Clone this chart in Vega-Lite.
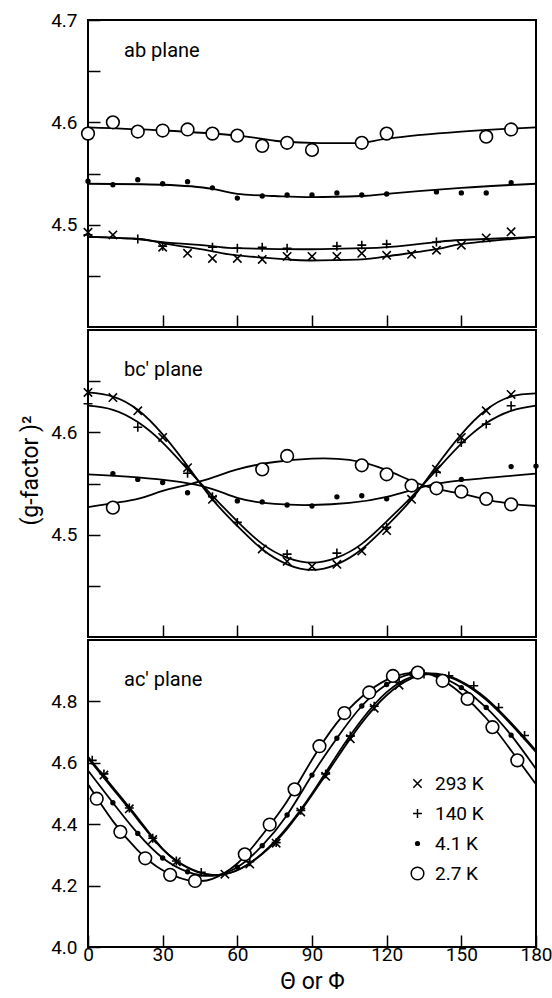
{
  "$schema": "https://vega.github.io/schema/vega-lite/v6.json",
  "background": "white",
  "padding": {"left": 18, "top": 10, "right": 0, "bottom": 0},
  "spacing": 0,
  "config": {
    "view": {"stroke": "black", "strokeWidth": 2},
    "font": "Roboto",
    "axis": {"domain": false, "grid": false, "tickColor": "black", "tickWidth": 1.5, "labelColor": "black", "labelFont": "Roboto", "labelFontSize": 19, "titleFont": "Roboto", "titleColor": "black", "titleFontWeight": "normal"},
    "title": {"font": "Roboto", "color": "black", "fontWeight": "normal"}
  },
  "datasets": {
    "points": [
      {"panel": "ab", "series": "2.7 K", "theta": 0, "g": 4.589},
      {"panel": "ab", "series": "2.7 K", "theta": 10, "g": 4.600},
      {"panel": "ab", "series": "2.7 K", "theta": 20, "g": 4.591},
      {"panel": "ab", "series": "2.7 K", "theta": 30, "g": 4.592},
      {"panel": "ab", "series": "2.7 K", "theta": 40, "g": 4.593},
      {"panel": "ab", "series": "2.7 K", "theta": 50, "g": 4.589},
      {"panel": "ab", "series": "2.7 K", "theta": 60, "g": 4.587},
      {"panel": "ab", "series": "2.7 K", "theta": 70, "g": 4.577},
      {"panel": "ab", "series": "2.7 K", "theta": 80, "g": 4.580},
      {"panel": "ab", "series": "2.7 K", "theta": 90, "g": 4.573},
      {"panel": "ab", "series": "2.7 K", "theta": 110, "g": 4.580},
      {"panel": "ab", "series": "2.7 K", "theta": 120, "g": 4.589},
      {"panel": "ab", "series": "2.7 K", "theta": 160, "g": 4.586},
      {"panel": "ab", "series": "2.7 K", "theta": 170, "g": 4.593},
      {"panel": "ab", "series": "4.1 K", "theta": 0, "g": 4.5425},
      {"panel": "ab", "series": "4.1 K", "theta": 10, "g": 4.539},
      {"panel": "ab", "series": "4.1 K", "theta": 20, "g": 4.544},
      {"panel": "ab", "series": "4.1 K", "theta": 30, "g": 4.540},
      {"panel": "ab", "series": "4.1 K", "theta": 40, "g": 4.542},
      {"panel": "ab", "series": "4.1 K", "theta": 50, "g": 4.536},
      {"panel": "ab", "series": "4.1 K", "theta": 60, "g": 4.526},
      {"panel": "ab", "series": "4.1 K", "theta": 70, "g": 4.528},
      {"panel": "ab", "series": "4.1 K", "theta": 80, "g": 4.529},
      {"panel": "ab", "series": "4.1 K", "theta": 90, "g": 4.529},
      {"panel": "ab", "series": "4.1 K", "theta": 100, "g": 4.531},
      {"panel": "ab", "series": "4.1 K", "theta": 110, "g": 4.529},
      {"panel": "ab", "series": "4.1 K", "theta": 120, "g": 4.530},
      {"panel": "ab", "series": "4.1 K", "theta": 140, "g": 4.532},
      {"panel": "ab", "series": "4.1 K", "theta": 150, "g": 4.531},
      {"panel": "ab", "series": "4.1 K", "theta": 160, "g": 4.531},
      {"panel": "ab", "series": "4.1 K", "theta": 170, "g": 4.541},
      {"panel": "ab", "series": "293 K", "theta": 0, "g": 4.4925},
      {"panel": "ab", "series": "293 K", "theta": 10, "g": 4.490},
      {"panel": "ab", "series": "293 K", "theta": 30, "g": 4.478},
      {"panel": "ab", "series": "293 K", "theta": 40, "g": 4.472},
      {"panel": "ab", "series": "293 K", "theta": 50, "g": 4.467},
      {"panel": "ab", "series": "293 K", "theta": 60, "g": 4.467},
      {"panel": "ab", "series": "293 K", "theta": 70, "g": 4.466},
      {"panel": "ab", "series": "293 K", "theta": 80, "g": 4.469},
      {"panel": "ab", "series": "293 K", "theta": 90, "g": 4.469},
      {"panel": "ab", "series": "293 K", "theta": 100, "g": 4.469},
      {"panel": "ab", "series": "293 K", "theta": 110, "g": 4.472},
      {"panel": "ab", "series": "293 K", "theta": 120, "g": 4.470},
      {"panel": "ab", "series": "293 K", "theta": 130, "g": 4.471},
      {"panel": "ab", "series": "293 K", "theta": 140, "g": 4.475},
      {"panel": "ab", "series": "293 K", "theta": 150, "g": 4.480},
      {"panel": "ab", "series": "293 K", "theta": 160, "g": 4.487},
      {"panel": "ab", "series": "293 K", "theta": 170, "g": 4.493},
      {"panel": "ab", "series": "140 K", "theta": 0, "g": 4.490},
      {"panel": "ab", "series": "140 K", "theta": 20, "g": 4.486},
      {"panel": "ab", "series": "140 K", "theta": 30, "g": 4.479},
      {"panel": "ab", "series": "140 K", "theta": 50, "g": 4.478},
      {"panel": "ab", "series": "140 K", "theta": 60, "g": 4.477},
      {"panel": "ab", "series": "140 K", "theta": 70, "g": 4.478},
      {"panel": "ab", "series": "140 K", "theta": 80, "g": 4.477},
      {"panel": "ab", "series": "140 K", "theta": 100, "g": 4.479},
      {"panel": "ab", "series": "140 K", "theta": 110, "g": 4.480},
      {"panel": "ab", "series": "140 K", "theta": 120, "g": 4.481},
      {"panel": "ab", "series": "140 K", "theta": 140, "g": 4.483},

      {"panel": "bc", "series": "293 K", "theta": 0, "g": 4.639},
      {"panel": "bc", "series": "293 K", "theta": 10, "g": 4.634},
      {"panel": "bc", "series": "293 K", "theta": 20, "g": 4.621},
      {"panel": "bc", "series": "293 K", "theta": 30, "g": 4.595},
      {"panel": "bc", "series": "293 K", "theta": 40, "g": 4.5655},
      {"panel": "bc", "series": "293 K", "theta": 50, "g": 4.5345},
      {"panel": "bc", "series": "293 K", "theta": 70, "g": 4.486},
      {"panel": "bc", "series": "293 K", "theta": 80, "g": 4.474},
      {"panel": "bc", "series": "293 K", "theta": 90, "g": 4.469},
      {"panel": "bc", "series": "293 K", "theta": 100, "g": 4.471},
      {"panel": "bc", "series": "293 K", "theta": 110, "g": 4.484},
      {"panel": "bc", "series": "293 K", "theta": 120, "g": 4.504},
      {"panel": "bc", "series": "293 K", "theta": 130, "g": 4.5345},
      {"panel": "bc", "series": "293 K", "theta": 140, "g": 4.564},
      {"panel": "bc", "series": "293 K", "theta": 150, "g": 4.595},
      {"panel": "bc", "series": "293 K", "theta": 160, "g": 4.621},
      {"panel": "bc", "series": "293 K", "theta": 170, "g": 4.637},
      {"panel": "bc", "series": "140 K", "theta": 0, "g": 4.628},
      {"panel": "bc", "series": "140 K", "theta": 20, "g": 4.605},
      {"panel": "bc", "series": "140 K", "theta": 40, "g": 4.560},
      {"panel": "bc", "series": "140 K", "theta": 50, "g": 4.537},
      {"panel": "bc", "series": "140 K", "theta": 60, "g": 4.512},
      {"panel": "bc", "series": "140 K", "theta": 80, "g": 4.481},
      {"panel": "bc", "series": "140 K", "theta": 100, "g": 4.482},
      {"panel": "bc", "series": "140 K", "theta": 120, "g": 4.507},
      {"panel": "bc", "series": "140 K", "theta": 140, "g": 4.561},
      {"panel": "bc", "series": "140 K", "theta": 150, "g": 4.590},
      {"panel": "bc", "series": "140 K", "theta": 160, "g": 4.608},
      {"panel": "bc", "series": "140 K", "theta": 170, "g": 4.626},
      {"panel": "bc", "series": "4.1 K", "theta": 10, "g": 4.5596},
      {"panel": "bc", "series": "4.1 K", "theta": 20, "g": 4.554},
      {"panel": "bc", "series": "4.1 K", "theta": 30, "g": 4.551},
      {"panel": "bc", "series": "4.1 K", "theta": 40, "g": 4.541},
      {"panel": "bc", "series": "4.1 K", "theta": 60, "g": 4.533},
      {"panel": "bc", "series": "4.1 K", "theta": 70, "g": 4.532},
      {"panel": "bc", "series": "4.1 K", "theta": 80, "g": 4.529},
      {"panel": "bc", "series": "4.1 K", "theta": 90, "g": 4.528},
      {"panel": "bc", "series": "4.1 K", "theta": 100, "g": 4.537},
      {"panel": "bc", "series": "4.1 K", "theta": 110, "g": 4.538},
      {"panel": "bc", "series": "4.1 K", "theta": 120, "g": 4.535},
      {"panel": "bc", "series": "4.1 K", "theta": 140, "g": 4.548},
      {"panel": "bc", "series": "4.1 K", "theta": 150, "g": 4.554},
      {"panel": "bc", "series": "4.1 K", "theta": 170, "g": 4.5665},
      {"panel": "bc", "series": "4.1 K", "theta": 180, "g": 4.567},
      {"panel": "bc", "series": "2.7 K", "theta": 10, "g": 4.5264},
      {"panel": "bc", "series": "2.7 K", "theta": 70, "g": 4.5638},
      {"panel": "bc", "series": "2.7 K", "theta": 80, "g": 4.5769},
      {"panel": "bc", "series": "2.7 K", "theta": 110, "g": 4.5678},
      {"panel": "bc", "series": "2.7 K", "theta": 120, "g": 4.559},
      {"panel": "bc", "series": "2.7 K", "theta": 130, "g": 4.548},
      {"panel": "bc", "series": "2.7 K", "theta": 140, "g": 4.5453},
      {"panel": "bc", "series": "2.7 K", "theta": 150, "g": 4.542},
      {"panel": "bc", "series": "2.7 K", "theta": 160, "g": 4.535},
      {"panel": "bc", "series": "2.7 K", "theta": 170, "g": 4.5296},

      {"panel": "ac", "series": "4.1 K", "theta": 10, "g": 4.47},
      {"panel": "ac", "series": "4.1 K", "theta": 20, "g": 4.37},
      {"panel": "ac", "series": "4.1 K", "theta": 30, "g": 4.29},
      {"panel": "ac", "series": "4.1 K", "theta": 40, "g": 4.245},
      {"panel": "ac", "series": "4.1 K", "theta": 60, "g": 4.26},
      {"panel": "ac", "series": "4.1 K", "theta": 70, "g": 4.33},
      {"panel": "ac", "series": "4.1 K", "theta": 80, "g": 4.43},
      {"panel": "ac", "series": "4.1 K", "theta": 90, "g": 4.56},
      {"panel": "ac", "series": "4.1 K", "theta": 100, "g": 4.68},
      {"panel": "ac", "series": "4.1 K", "theta": 110, "g": 4.785},
      {"panel": "ac", "series": "4.1 K", "theta": 120, "g": 4.855},
      {"panel": "ac", "series": "4.1 K", "theta": 130, "g": 4.89},
      {"panel": "ac", "series": "4.1 K", "theta": 150, "g": 4.845},
      {"panel": "ac", "series": "4.1 K", "theta": 160, "g": 4.78},
      {"panel": "ac", "series": "4.1 K", "theta": 170, "g": 4.69},
      {"panel": "ac", "series": "293 K", "theta": 6.4, "g": 4.56},
      {"panel": "ac", "series": "293 K", "theta": 16.6, "g": 4.45},
      {"panel": "ac", "series": "293 K", "theta": 26, "g": 4.35},
      {"panel": "ac", "series": "293 K", "theta": 35.5, "g": 4.278},
      {"panel": "ac", "series": "293 K", "theta": 55, "g": 4.237},
      {"panel": "ac", "series": "293 K", "theta": 65, "g": 4.27},
      {"panel": "ac", "series": "293 K", "theta": 75.6, "g": 4.338},
      {"panel": "ac", "series": "293 K", "theta": 85.5, "g": 4.44},
      {"panel": "ac", "series": "293 K", "theta": 95.5, "g": 4.556},
      {"panel": "ac", "series": "293 K", "theta": 105.4, "g": 4.678},
      {"panel": "ac", "series": "293 K", "theta": 115, "g": 4.778},
      {"panel": "ac", "series": "293 K", "theta": 125, "g": 4.853},
      {"panel": "ac", "series": "140 K", "theta": 1.7, "g": 4.608},
      {"panel": "ac", "series": "140 K", "theta": 6.4, "g": 4.564},
      {"panel": "ac", "series": "140 K", "theta": 16.6, "g": 4.453},
      {"panel": "ac", "series": "140 K", "theta": 26, "g": 4.354},
      {"panel": "ac", "series": "140 K", "theta": 35.5, "g": 4.28},
      {"panel": "ac", "series": "140 K", "theta": 45.5, "g": 4.243},
      {"panel": "ac", "series": "140 K", "theta": 65, "g": 4.278},
      {"panel": "ac", "series": "140 K", "theta": 75.6, "g": 4.34},
      {"panel": "ac", "series": "140 K", "theta": 85.5, "g": 4.445},
      {"panel": "ac", "series": "140 K", "theta": 95.5, "g": 4.564},
      {"panel": "ac", "series": "140 K", "theta": 105.4, "g": 4.687},
      {"panel": "ac", "series": "140 K", "theta": 115, "g": 4.784},
      {"panel": "ac", "series": "140 K", "theta": 125, "g": 4.862},
      {"panel": "ac", "series": "140 K", "theta": 135, "g": 4.889},
      {"panel": "ac", "series": "140 K", "theta": 145, "g": 4.883},
      {"panel": "ac", "series": "140 K", "theta": 155, "g": 4.851},
      {"panel": "ac", "series": "140 K", "theta": 165, "g": 4.78},
      {"panel": "ac", "series": "140 K", "theta": 175.4, "g": 4.689},
      {"panel": "ac", "series": "2.7 K", "theta": 3.5, "g": 4.483},
      {"panel": "ac", "series": "2.7 K", "theta": 13, "g": 4.375},
      {"panel": "ac", "series": "2.7 K", "theta": 23, "g": 4.289},
      {"panel": "ac", "series": "2.7 K", "theta": 33, "g": 4.235},
      {"panel": "ac", "series": "2.7 K", "theta": 43, "g": 4.215},
      {"panel": "ac", "series": "2.7 K", "theta": 63, "g": 4.302},
      {"panel": "ac", "series": "2.7 K", "theta": 73, "g": 4.399},
      {"panel": "ac", "series": "2.7 K", "theta": 83, "g": 4.5135},
      {"panel": "ac", "series": "2.7 K", "theta": 93, "g": 4.654},
      {"panel": "ac", "series": "2.7 K", "theta": 103, "g": 4.762},
      {"panel": "ac", "series": "2.7 K", "theta": 113, "g": 4.829},
      {"panel": "ac", "series": "2.7 K", "theta": 122.5, "g": 4.883},
      {"panel": "ac", "series": "2.7 K", "theta": 132.5, "g": 4.894},
      {"panel": "ac", "series": "2.7 K", "theta": 142.5, "g": 4.867},
      {"panel": "ac", "series": "2.7 K", "theta": 152.5, "g": 4.808},
      {"panel": "ac", "series": "2.7 K", "theta": 162.5, "g": 4.716},
      {"panel": "ac", "series": "2.7 K", "theta": 172.5, "g": 4.608}
    ],
    "curves": [
      {"panel": "ab", "series": "2.7 K", "theta": 0, "g": 4.595},
      {"panel": "ab", "series": "2.7 K", "theta": 30, "g": 4.592},
      {"panel": "ab", "series": "2.7 K", "theta": 60, "g": 4.587},
      {"panel": "ab", "series": "2.7 K", "theta": 75, "g": 4.582},
      {"panel": "ab", "series": "2.7 K", "theta": 90, "g": 4.580},
      {"panel": "ab", "series": "2.7 K", "theta": 110, "g": 4.580},
      {"panel": "ab", "series": "2.7 K", "theta": 120, "g": 4.584},
      {"panel": "ab", "series": "2.7 K", "theta": 150, "g": 4.591},
      {"panel": "ab", "series": "2.7 K", "theta": 180, "g": 4.595},
      {"panel": "ab", "series": "4.1 K", "theta": 0, "g": 4.540},
      {"panel": "ab", "series": "4.1 K", "theta": 30, "g": 4.539},
      {"panel": "ab", "series": "4.1 K", "theta": 50, "g": 4.535},
      {"panel": "ab", "series": "4.1 K", "theta": 60, "g": 4.530},
      {"panel": "ab", "series": "4.1 K", "theta": 75, "g": 4.528},
      {"panel": "ab", "series": "4.1 K", "theta": 90, "g": 4.527},
      {"panel": "ab", "series": "4.1 K", "theta": 110, "g": 4.528},
      {"panel": "ab", "series": "4.1 K", "theta": 120, "g": 4.530},
      {"panel": "ab", "series": "4.1 K", "theta": 150, "g": 4.536},
      {"panel": "ab", "series": "4.1 K", "theta": 180, "g": 4.540},
      {"panel": "ab", "series": "293 K", "theta": 0, "g": 4.488},
      {"panel": "ab", "series": "293 K", "theta": 20, "g": 4.486},
      {"panel": "ab", "series": "293 K", "theta": 30, "g": 4.482},
      {"panel": "ab", "series": "293 K", "theta": 50, "g": 4.474},
      {"panel": "ab", "series": "293 K", "theta": 60, "g": 4.470},
      {"panel": "ab", "series": "293 K", "theta": 80, "g": 4.466},
      {"panel": "ab", "series": "293 K", "theta": 90, "g": 4.465},
      {"panel": "ab", "series": "293 K", "theta": 110, "g": 4.466},
      {"panel": "ab", "series": "293 K", "theta": 120, "g": 4.469},
      {"panel": "ab", "series": "293 K", "theta": 140, "g": 4.476},
      {"panel": "ab", "series": "293 K", "theta": 150, "g": 4.481},
      {"panel": "ab", "series": "293 K", "theta": 170, "g": 4.486},
      {"panel": "ab", "series": "293 K", "theta": 180, "g": 4.488},
      {"panel": "ab", "series": "140 K", "theta": 0, "g": 4.488},
      {"panel": "ab", "series": "140 K", "theta": 20, "g": 4.486},
      {"panel": "ab", "series": "140 K", "theta": 30, "g": 4.483},
      {"panel": "ab", "series": "140 K", "theta": 50, "g": 4.479},
      {"panel": "ab", "series": "140 K", "theta": 60, "g": 4.477},
      {"panel": "ab", "series": "140 K", "theta": 90, "g": 4.476},
      {"panel": "ab", "series": "140 K", "theta": 110, "g": 4.477},
      {"panel": "ab", "series": "140 K", "theta": 120, "g": 4.478},
      {"panel": "ab", "series": "140 K", "theta": 140, "g": 4.483},
      {"panel": "ab", "series": "140 K", "theta": 150, "g": 4.485},
      {"panel": "ab", "series": "140 K", "theta": 180, "g": 4.488},

      {"panel": "bc", "series": "293 K", "theta": 0, "g": 4.639},
      {"panel": "bc", "series": "293 K", "theta": 10, "g": 4.635},
      {"panel": "bc", "series": "293 K", "theta": 20, "g": 4.622},
      {"panel": "bc", "series": "293 K", "theta": 30, "g": 4.598},
      {"panel": "bc", "series": "293 K", "theta": 40, "g": 4.567},
      {"panel": "bc", "series": "293 K", "theta": 50, "g": 4.5345},
      {"panel": "bc", "series": "293 K", "theta": 60, "g": 4.5085},
      {"panel": "bc", "series": "293 K", "theta": 70, "g": 4.4857},
      {"panel": "bc", "series": "293 K", "theta": 80, "g": 4.471},
      {"panel": "bc", "series": "293 K", "theta": 90, "g": 4.4655},
      {"panel": "bc", "series": "293 K", "theta": 100, "g": 4.471},
      {"panel": "bc", "series": "293 K", "theta": 110, "g": 4.4857},
      {"panel": "bc", "series": "293 K", "theta": 120, "g": 4.5085},
      {"panel": "bc", "series": "293 K", "theta": 130, "g": 4.5345},
      {"panel": "bc", "series": "293 K", "theta": 140, "g": 4.567},
      {"panel": "bc", "series": "293 K", "theta": 150, "g": 4.598},
      {"panel": "bc", "series": "293 K", "theta": 160, "g": 4.622},
      {"panel": "bc", "series": "293 K", "theta": 170, "g": 4.635},
      {"panel": "bc", "series": "293 K", "theta": 180, "g": 4.638},
      {"panel": "bc", "series": "140 K", "theta": 0, "g": 4.626},
      {"panel": "bc", "series": "140 K", "theta": 10, "g": 4.622},
      {"panel": "bc", "series": "140 K", "theta": 20, "g": 4.610},
      {"panel": "bc", "series": "140 K", "theta": 30, "g": 4.590},
      {"panel": "bc", "series": "140 K", "theta": 40, "g": 4.564},
      {"panel": "bc", "series": "140 K", "theta": 50, "g": 4.538},
      {"panel": "bc", "series": "140 K", "theta": 60, "g": 4.513},
      {"panel": "bc", "series": "140 K", "theta": 70, "g": 4.491},
      {"panel": "bc", "series": "140 K", "theta": 80, "g": 4.4775},
      {"panel": "bc", "series": "140 K", "theta": 90, "g": 4.4726},
      {"panel": "bc", "series": "140 K", "theta": 100, "g": 4.4775},
      {"panel": "bc", "series": "140 K", "theta": 110, "g": 4.491},
      {"panel": "bc", "series": "140 K", "theta": 120, "g": 4.513},
      {"panel": "bc", "series": "140 K", "theta": 130, "g": 4.537},
      {"panel": "bc", "series": "140 K", "theta": 140, "g": 4.563},
      {"panel": "bc", "series": "140 K", "theta": 150, "g": 4.589},
      {"panel": "bc", "series": "140 K", "theta": 160, "g": 4.609},
      {"panel": "bc", "series": "140 K", "theta": 170, "g": 4.621},
      {"panel": "bc", "series": "140 K", "theta": 180, "g": 4.626},
      {"panel": "bc", "series": "4.1 K", "theta": 0, "g": 4.559},
      {"panel": "bc", "series": "4.1 K", "theta": 20, "g": 4.556},
      {"panel": "bc", "series": "4.1 K", "theta": 45, "g": 4.548},
      {"panel": "bc", "series": "4.1 K", "theta": 60, "g": 4.536},
      {"panel": "bc", "series": "4.1 K", "theta": 75, "g": 4.530},
      {"panel": "bc", "series": "4.1 K", "theta": 90, "g": 4.529},
      {"panel": "bc", "series": "4.1 K", "theta": 105, "g": 4.531},
      {"panel": "bc", "series": "4.1 K", "theta": 120, "g": 4.537},
      {"panel": "bc", "series": "4.1 K", "theta": 135, "g": 4.547},
      {"panel": "bc", "series": "4.1 K", "theta": 150, "g": 4.553},
      {"panel": "bc", "series": "4.1 K", "theta": 180, "g": 4.5596},
      {"panel": "bc", "series": "2.7 K", "theta": 0, "g": 4.527},
      {"panel": "bc", "series": "2.7 K", "theta": 20, "g": 4.535},
      {"panel": "bc", "series": "2.7 K", "theta": 30, "g": 4.5427},
      {"panel": "bc", "series": "2.7 K", "theta": 45, "g": 4.552},
      {"panel": "bc", "series": "2.7 K", "theta": 60, "g": 4.5638},
      {"panel": "bc", "series": "2.7 K", "theta": 75, "g": 4.571},
      {"panel": "bc", "series": "2.7 K", "theta": 90, "g": 4.5743},
      {"panel": "bc", "series": "2.7 K", "theta": 105, "g": 4.573},
      {"panel": "bc", "series": "2.7 K", "theta": 120, "g": 4.563},
      {"panel": "bc", "series": "2.7 K", "theta": 135, "g": 4.548},
      {"panel": "bc", "series": "2.7 K", "theta": 150, "g": 4.540},
      {"panel": "bc", "series": "2.7 K", "theta": 165, "g": 4.532},
      {"panel": "bc", "series": "2.7 K", "theta": 180, "g": 4.528},

      {"panel": "ac", "series": "140 K", "theta": 0, "g": 4.62},
      {"panel": "ac", "series": "140 K", "theta": 10, "g": 4.52},
      {"panel": "ac", "series": "140 K", "theta": 20, "g": 4.42},
      {"panel": "ac", "series": "140 K", "theta": 30, "g": 4.32},
      {"panel": "ac", "series": "140 K", "theta": 40, "g": 4.26},
      {"panel": "ac", "series": "140 K", "theta": 50, "g": 4.235},
      {"panel": "ac", "series": "140 K", "theta": 60, "g": 4.25},
      {"panel": "ac", "series": "140 K", "theta": 70, "g": 4.305},
      {"panel": "ac", "series": "140 K", "theta": 80, "g": 4.39},
      {"panel": "ac", "series": "140 K", "theta": 90, "g": 4.50},
      {"panel": "ac", "series": "140 K", "theta": 100, "g": 4.625},
      {"panel": "ac", "series": "140 K", "theta": 110, "g": 4.74},
      {"panel": "ac", "series": "140 K", "theta": 120, "g": 4.83},
      {"panel": "ac", "series": "140 K", "theta": 130, "g": 4.88},
      {"panel": "ac", "series": "140 K", "theta": 140, "g": 4.89},
      {"panel": "ac", "series": "140 K", "theta": 150, "g": 4.865},
      {"panel": "ac", "series": "140 K", "theta": 160, "g": 4.81},
      {"panel": "ac", "series": "140 K", "theta": 170, "g": 4.73},
      {"panel": "ac", "series": "140 K", "theta": 180, "g": 4.64},
      {"panel": "ac", "series": "293 K", "theta": 0, "g": 4.615},
      {"panel": "ac", "series": "293 K", "theta": 10, "g": 4.515},
      {"panel": "ac", "series": "293 K", "theta": 20, "g": 4.415},
      {"panel": "ac", "series": "293 K", "theta": 30, "g": 4.318},
      {"panel": "ac", "series": "293 K", "theta": 40, "g": 4.258},
      {"panel": "ac", "series": "293 K", "theta": 50, "g": 4.234},
      {"panel": "ac", "series": "293 K", "theta": 60, "g": 4.25},
      {"panel": "ac", "series": "293 K", "theta": 70, "g": 4.303},
      {"panel": "ac", "series": "293 K", "theta": 80, "g": 4.385},
      {"panel": "ac", "series": "293 K", "theta": 90, "g": 4.495},
      {"panel": "ac", "series": "293 K", "theta": 100, "g": 4.615},
      {"panel": "ac", "series": "293 K", "theta": 110, "g": 4.73},
      {"panel": "ac", "series": "293 K", "theta": 120, "g": 4.82},
      {"panel": "ac", "series": "293 K", "theta": 130, "g": 4.875},
      {"panel": "ac", "series": "293 K", "theta": 140, "g": 4.888},
      {"panel": "ac", "series": "293 K", "theta": 150, "g": 4.862},
      {"panel": "ac", "series": "293 K", "theta": 160, "g": 4.805},
      {"panel": "ac", "series": "293 K", "theta": 170, "g": 4.725},
      {"panel": "ac", "series": "293 K", "theta": 180, "g": 4.635},
      {"panel": "ac", "series": "4.1 K", "theta": 0, "g": 4.575},
      {"panel": "ac", "series": "4.1 K", "theta": 10, "g": 4.47},
      {"panel": "ac", "series": "4.1 K", "theta": 20, "g": 4.37},
      {"panel": "ac", "series": "4.1 K", "theta": 30, "g": 4.29},
      {"panel": "ac", "series": "4.1 K", "theta": 40, "g": 4.245},
      {"panel": "ac", "series": "4.1 K", "theta": 50, "g": 4.232},
      {"panel": "ac", "series": "4.1 K", "theta": 60, "g": 4.26},
      {"panel": "ac", "series": "4.1 K", "theta": 70, "g": 4.33},
      {"panel": "ac", "series": "4.1 K", "theta": 80, "g": 4.43},
      {"panel": "ac", "series": "4.1 K", "theta": 90, "g": 4.56},
      {"panel": "ac", "series": "4.1 K", "theta": 100, "g": 4.68},
      {"panel": "ac", "series": "4.1 K", "theta": 110, "g": 4.785},
      {"panel": "ac", "series": "4.1 K", "theta": 120, "g": 4.855},
      {"panel": "ac", "series": "4.1 K", "theta": 130, "g": 4.89},
      {"panel": "ac", "series": "4.1 K", "theta": 140, "g": 4.885},
      {"panel": "ac", "series": "4.1 K", "theta": 150, "g": 4.845},
      {"panel": "ac", "series": "4.1 K", "theta": 160, "g": 4.78},
      {"panel": "ac", "series": "4.1 K", "theta": 170, "g": 4.69},
      {"panel": "ac", "series": "4.1 K", "theta": 180, "g": 4.58},
      {"panel": "ac", "series": "2.7 K", "theta": 0, "g": 4.53},
      {"panel": "ac", "series": "2.7 K", "theta": 10, "g": 4.41},
      {"panel": "ac", "series": "2.7 K", "theta": 20, "g": 4.315},
      {"panel": "ac", "series": "2.7 K", "theta": 30, "g": 4.25},
      {"panel": "ac", "series": "2.7 K", "theta": 40, "g": 4.218},
      {"panel": "ac", "series": "2.7 K", "theta": 45, "g": 4.215},
      {"panel": "ac", "series": "2.7 K", "theta": 50, "g": 4.222},
      {"panel": "ac", "series": "2.7 K", "theta": 60, "g": 4.272},
      {"panel": "ac", "series": "2.7 K", "theta": 70, "g": 4.365},
      {"panel": "ac", "series": "2.7 K", "theta": 80, "g": 4.475},
      {"panel": "ac", "series": "2.7 K", "theta": 90, "g": 4.61},
      {"panel": "ac", "series": "2.7 K", "theta": 100, "g": 4.73},
      {"panel": "ac", "series": "2.7 K", "theta": 110, "g": 4.815},
      {"panel": "ac", "series": "2.7 K", "theta": 120, "g": 4.87},
      {"panel": "ac", "series": "2.7 K", "theta": 130, "g": 4.893},
      {"panel": "ac", "series": "2.7 K", "theta": 140, "g": 4.88},
      {"panel": "ac", "series": "2.7 K", "theta": 150, "g": 4.825},
      {"panel": "ac", "series": "2.7 K", "theta": 160, "g": 4.745},
      {"panel": "ac", "series": "2.7 K", "theta": 170, "g": 4.64},
      {"panel": "ac", "series": "2.7 K", "theta": 180, "g": 4.53}
    ]
  },
  "vconcat": [
    {
      "width": 448, "height": 307,
      "title": {"text": "ab plane", "anchor": "start", "frame": "group", "offset": -50, "dx": 36, "fontSize": 20},
      "encoding": {
        "x": {"field": "theta", "type": "quantitative", "scale": {"domain": [0, 180], "nice": false}, "axis": {"values": [30, 60, 90, 120, 150], "labels": false, "title": null, "tickSize": -12}},
        "y": {"field": "g", "type": "quantitative", "scale": {"domain": [4.4, 4.7], "nice": false, "zero": false}, "axis": {"values": [4.45, 4.5, 4.55, 4.6, 4.65, 4.7], "labelExpr": "abs(datum.value*10 - round(datum.value*10)) < 0.01 ? format(datum.value, '.1f') : ''", "tickSize": -12, "labelPadding": 23, "title": null}}
      },
      "layer": [
        {"data": {"name": "curves"}, "transform": [{"filter": "datum.panel == 'ab'"}], "mark": {"type": "line", "interpolate": "natural", "color": "black", "strokeWidth": 1.8}, "encoding": {"detail": {"field": "series"}}},
        {"data": {"name": "points"}, "transform": [{"filter": "datum.panel == 'ab'"}], "mark": {"type": "point", "filled": true, "stroke": "black", "strokeWidth": 1.6, "opacity": 1},
         "encoding": {
           "shape": {"field": "series", "type": "nominal", "scale": {"domain": ["293 K", "140 K", "4.1 K", "2.7 K"], "range": ["M-1,-1L1,1M-1,1L1,-1", "M0,-1L0,1M-1,0L1,0", "circle", "circle"]}, "legend": null},
           "size": {"field": "series", "type": "nominal", "scale": {"type": "ordinal", "domain": ["293 K", "140 K", "4.1 K", "2.7 K"], "range": [70, 80, 14, 160]}, "legend": null},
           "fill": {"field": "series", "type": "nominal", "scale": {"domain": ["293 K", "140 K", "4.1 K", "2.7 K"], "range": ["white", "white", "black", "white"]}, "legend": null}
         }}
      ]
    },
    {
      "width": 448, "height": 307,
      "title": {"text": "bc' plane", "anchor": "start", "frame": "group", "offset": -50, "dx": 36, "fontSize": 20},
      "encoding": {
        "x": {"field": "theta", "type": "quantitative", "scale": {"domain": [0, 180], "nice": false}, "axis": {"values": [30, 60, 90, 120, 150], "labels": false, "title": null, "tickSize": -12}},
        "y": {"field": "g", "type": "quantitative", "scale": {"domain": [4.4, 4.7], "nice": false, "zero": false}, "axis": {"values": [4.45, 4.5, 4.55, 4.6, 4.65], "labelExpr": "abs(datum.value*10 - round(datum.value*10)) < 0.01 ? format(datum.value, '.1f') : ''", "tickSize": -12, "labelPadding": 23, "title": "(g-factor )²", "titleFontSize": 23, "titlePadding": 8, "titleY": 140}}
      },
      "layer": [
        {"data": {"name": "curves"}, "transform": [{"filter": "datum.panel == 'bc'"}], "mark": {"type": "line", "interpolate": "natural", "color": "black", "strokeWidth": 1.8}, "encoding": {"detail": {"field": "series"}}},
        {"data": {"name": "points"}, "transform": [{"filter": "datum.panel == 'bc'"}], "mark": {"type": "point", "filled": true, "stroke": "black", "strokeWidth": 1.6, "opacity": 1},
         "encoding": {
           "shape": {"field": "series", "type": "nominal", "scale": {"domain": ["293 K", "140 K", "4.1 K", "2.7 K"], "range": ["M-1,-1L1,1M-1,1L1,-1", "M0,-1L0,1M-1,0L1,0", "circle", "circle"]}, "legend": null},
           "size": {"field": "series", "type": "nominal", "scale": {"type": "ordinal", "domain": ["293 K", "140 K", "4.1 K", "2.7 K"], "range": [70, 80, 14, 160]}, "legend": null},
           "fill": {"field": "series", "type": "nominal", "scale": {"domain": ["293 K", "140 K", "4.1 K", "2.7 K"], "range": ["white", "white", "black", "white"]}, "legend": null}
         }}
      ]
    },
    {
      "width": 448, "height": 307,
      "title": {"text": "ac' plane", "anchor": "start", "frame": "group", "offset": -50, "dx": 36, "fontSize": 20},
      "encoding": {
        "x": {"field": "theta", "type": "quantitative", "scale": {"domain": [0, 180], "nice": false}, "axis": {"values": [0, 30, 60, 90, 120, 150, 180], "labelFlush": false, "labelPadding": 10, "title": "Θ or Φ", "titleFontSize": 23, "titlePadding": 6, "tickSize": -12}},
        "y": {"field": "g", "type": "quantitative", "scale": {"domain": [4.0, 5.0], "nice": false, "zero": false}, "axis": {"values": [4.0, 4.2, 4.4, 4.6, 4.8], "format": ".1f", "tickSize": -12, "labelPadding": 23, "title": null}}
      },
      "layer": [
        {"data": {"name": "curves"}, "transform": [{"filter": "datum.panel == 'ac'"}], "mark": {"type": "line", "interpolate": "natural", "color": "black", "strokeWidth": 1.8}, "encoding": {"detail": {"field": "series"}}},
        {"data": {"name": "points"}, "transform": [{"filter": "datum.panel == 'ac'"}], "mark": {"type": "point", "filled": true, "stroke": "black", "strokeWidth": 1.6, "opacity": 1},
         "encoding": {
           "shape": {"field": "series", "type": "nominal", "scale": {"domain": ["293 K", "140 K", "4.1 K", "2.7 K"], "range": ["M-1,-1L1,1M-1,1L1,-1", "M0,-1L0,1M-1,0L1,0", "circle", "circle"]}, "legend": {"orient": "none", "legendX": 320, "legendY": 134, "title": null, "padding": 0, "labelFont": "Roboto", "labelFontSize": 19, "labelColor": "black", "rowPadding": 10, "labelOffset": 8, "encode": {"symbols": {"update": {"stroke": {"value": "black"}, "strokeWidth": {"value": 1.6}}}}}},
           "size": {"field": "series", "type": "nominal", "scale": {"type": "ordinal", "domain": ["293 K", "140 K", "4.1 K", "2.7 K"], "range": [70, 80, 14, 160]}, "legend": {"orient": "none", "legendX": 320, "legendY": 134, "title": null, "padding": 0, "labelFont": "Roboto", "labelFontSize": 19, "labelColor": "black", "rowPadding": 10, "labelOffset": 8, "encode": {"symbols": {"update": {"stroke": {"value": "black"}, "strokeWidth": {"value": 1.6}}}}}},
           "fill": {"field": "series", "type": "nominal", "scale": {"domain": ["293 K", "140 K", "4.1 K", "2.7 K"], "range": ["white", "white", "black", "white"]}, "legend": {"orient": "none", "legendX": 320, "legendY": 134, "title": null, "padding": 0, "labelFont": "Roboto", "labelFontSize": 19, "labelColor": "black", "rowPadding": 10, "labelOffset": 8, "encode": {"symbols": {"update": {"stroke": {"value": "black"}, "strokeWidth": {"value": 1.6}}}}}}
         }}
      ]
    }
  ],
  "resolve": {"scale": {"shape": "independent", "size": "independent", "fill": "independent"}}
}
